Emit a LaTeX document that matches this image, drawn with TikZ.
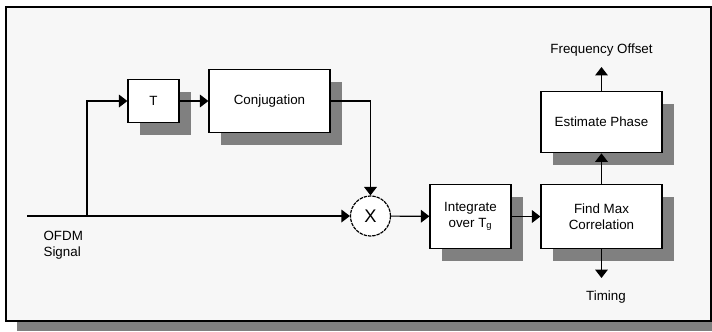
\documentclass[tikz,border=0pt]{standalone}
\usepackage{fontspec}
\setmainfont{Liberation Sans}
\usetikzlibrary{arrows.meta,shadows}

\begin{document}
\begin{tikzpicture}[x=0.025cm,y=-0.025cm,font=\fontsize{9.5}{11.3}\selectfont,
  line width=0.85pt,>={Triangle[length=6pt,width=9pt]},
  b/.style={draw,fill=white,align=center,inner sep=2pt,
    drop shadow={shadow xshift=0.31cm,shadow yshift=-0.31cm,fill=black!50,opacity=1}}]
\clip (0,0) rectangle (712,331);
\draw[fill=black!3,drop shadow={shadow xshift=0.28cm,shadow yshift=-0.25cm,fill=black!50,opacity=1}]
  (6,7) rectangle (711,321);
% delay and conjugate branch
\node[b,minimum width=1.275cm,minimum height=1.07cm] (t) at (153.5,101) {T};
\node[b,minimum width=3.025cm,minimum height=1.58cm] (conj) at (269.5,101) {Conjugation};
\node[draw,circle,fill=white,minimum size=1cm,inner sep=0pt,dash pattern=on 2.4pt off 0.7pt,
  font=\fontsize{13}{15}\selectfont] (mix) at (370.5,216) {X};
% correlation chain
\node[b,minimum width=2.025cm,minimum height=1.58cm] (integ) at (470.5,216.5) {Integrate\\over T\textsubscript{g}};
\node[b,minimum width=3.025cm,minimum height=1.58cm] (fm) at (601.5,216.5) {Find Max\\Correlation};
\node[b,minimum width=3.025cm,minimum height=1.54cm] (est) at (601.5,122) {Estimate Phase};
\node[anchor=west,align=left,inner sep=0pt] (sig) at (43,245) {OFDM\\Signal};
\node (fo) at (601.5,50) {Frequency Offset};
\node (tim) at (606,297) {Timing};
\coordinate (in) at (27,216);
\coordinate (br) at (87,216);
\coordinate (fout) at (601.5,67);
\coordinate (tout) at (601.5,278);
\draw[->] (in) -- (mix.west);
\draw[->] (br) |- (t.west);
\draw[->] (t) -- (conj);
\draw[->] (conj.east) -| (mix.north);
\draw[->] (mix) -- (integ);
\draw[->] (integ) -- (fm);
\draw[->] (fm) -- (est);
\draw[->] (est) -- (fout);
\draw[->] (fm) -- (tout);
\end{tikzpicture}
\end{document}
